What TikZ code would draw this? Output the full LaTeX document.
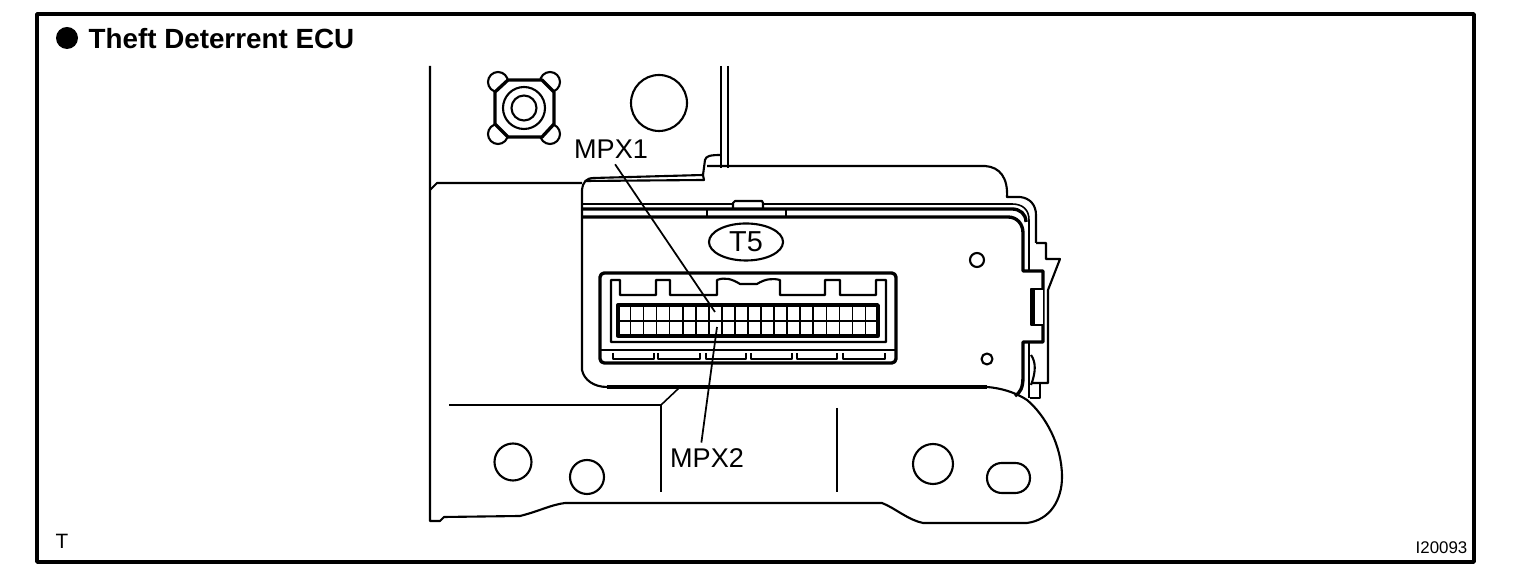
\documentclass[tikz,border=0pt]{standalone}
\usepackage{fontspec}
\usetikzlibrary{shapes.geometric}
\setmainfont{Liberation Sans}
\tikzset{
 thinline/.style={black, line width=.45pt},
 midline/.style={black, line width=.6pt},
 thickline/.style={black, line width=.95pt},
 leader/.style={black, line width=.5pt},
 callout/.style={inner sep=1.5pt, font=\fontsize{7.7}{9}\selectfont},
}
\begin{document}
\begin{tikzpicture}[x=.01cm, y=-.01cm, line join=round]
\useasboundingbox (0,0) rectangle (1536,574);
\fill[white] (0,0) rectangle (1536,574);
\draw[black, line width=1pt] (37,14) rectangle (1474,562);
\fill[black] (67,38) circle (11);
\node[anchor=west, inner sep=0pt, font=\bfseries\fontsize{7.9}{9}\selectfont] (title) at (88,38.5) {Theft Deterrent ECU};
\node[inner sep=0pt, font=\fontsize{5.9}{7}\selectfont] (series) at (62,541) {T};
\node[anchor=east, inner sep=0pt, font=\fontsize{4.8}{6}\selectfont] (partno) at (1468,548) {I20093};
% bracket plate
\draw[midline] (430,66) -- (430,521) -- (440,521) -- (444,517) -- (520,516) .. controls (540,511) and (550,505) .. (565,503) -- (882,503) .. controls (895,508) and (908,520) .. (923,523) -- (1027,523) .. controls (1050,520) and (1062,500) .. (1062,477) .. controls (1062,445) and (1045,415) .. (1027,400) .. controls (1015,392) and (1000,388) .. (987,387);
\draw[midline] (430,190) -- (437,183) -- (582,183);
\draw[midline] (721,66) -- (721,168);
\draw[midline] (728,66) -- (728,168);
\draw[midline] (703,175) -- (705,160) .. controls (706,156) and (710,155) .. (721,155);
\draw[thinline] (449,405) -- (661,405) -- (679,388);
\draw[thinline] (661,405) -- (661,492);
\draw[thinline] (837,408) -- (837,492);
% holes
\foreach \hx/\hy/\hr in {659/103/28, 513/462/18.5, 587/477/17, 933/464/20, 977/260/7, 987/359/5.5} {
 \draw[midline] (\hx,\hy) circle (\hr);
}
\draw[midline, rounded corners=4.2pt] (987,463) rectangle (1030,493);
% stud
\foreach \cx/\cy in {498/82, 550/82, 498/134, 550/134} {
 \draw[midline] (\cx,\cy) circle (10);
}
\draw[thickline, fill=white] (508,80) -- (542,80) -- (554,92) -- (554,124) -- (542,137) -- (508,137) -- (495,124) -- (495,92) -- cycle;
\draw[midline] (524,108) circle (21);
\draw[midline] (524,108) circle (12.5);
% ECU case
\draw[midline] (582,190) .. controls (583,182) and (586,178) .. (594,178) -- (703,175) -- (704,180) -- (586,181);
\draw[midline] (707,166) -- (985,166) .. controls (1000,167) and (1008,178) .. (1007,197) -- (1020,197) .. controls (1030,198) and (1036,205) .. (1036,215) -- (1036,243);
\draw[thinline] (583,204) -- (733,204);
\draw[thinline] (763,204) -- (1012,204) .. controls (1023,204) and (1029,210) .. (1029,220) -- (1029,271);
\draw[thickline] (583,209) -- (1012,209) .. controls (1020,209) and (1026,214) .. (1026,222);
\draw[thickline] (583,217) -- (1008,217) .. controls (1017,217) and (1023,224) .. (1023,233) -- (1023,271) -- (1043,271) -- (1043,342) -- (1023,342) -- (1023,377) .. controls (1023,388) and (1020,393) .. (1015,396);
\draw[midline] (582,190) -- (582,370) .. controls (584,380) and (594,387) .. (607,387);
\draw[thickline] (607,387) -- (987,387);
\draw[midline] (733,208) -- (733,203) -- (735,201) -- (762,201) -- (763,203) -- (763,208);
\draw[midline] (707,210) -- (707,217);
\draw[midline] (786,210) -- (786,217);
% latch on the right
\draw[midline] (1036,243) -- (1046,243) -- (1046,259) -- (1060,259) -- (1048,290) -- (1048,383) -- (1031,383);
\draw[midline] (1029,342) -- (1029,398);
\draw[midline] (1032,383) -- (1040,383) -- (1040,398) -- (1030,398);
\draw[midline] (1031,355) .. controls (1036,362) and (1036,372) .. (1031,385);
\draw[midline, fill=white] (1043,289) -- (1031,289) -- (1031,325) -- (1043,325);
\draw[thickline] (1033,289) -- (1033,325);
% connector
\draw[thickline, rounded corners=1.2pt] (600,273) rectangle (896,363);
\draw[midline] (600,350) -- (896,350);
\draw[midline] (611,280) -- (620,280) -- (620,295) -- (656,295) -- (656,280) -- (670,280) -- (670,295) -- (717,295) -- (717,280) .. controls (725,277) and (732,279) .. (740,284) -- (757,284) .. controls (765,279) and (772,278) .. (780,280) -- (780,295) -- (825,295) -- (825,280) -- (840,280) -- (840,295) -- (876,295) -- (876,280) -- (886,280) -- (886,342) -- (611,342) -- cycle;
\foreach \fa/\fb in {613/654, 658/700, 706/746, 751/792, 797/837, 843/885} {
 \draw[midline] (\fa,353) -- (\fa,359) -- (\fb,359) -- (\fb,353);
}
\foreach \col in {1,...,19} {
 \draw[thinline] ({617.5+\col*13.05},305) -- ({617.5+\col*13.05},336);
}
\draw[thinline] (618,321) -- (878,321);
\draw[thickline] (618,305) rectangle (878,336);
% labels and leaders
\node[draw, ellipse, inner sep=0pt, midline, minimum width=.74cm, minimum height=.37cm, font=\fontsize{8.2}{9}\selectfont] (plug) at (746,242) {T5};
\node[callout] (mpxa) at (611,149) {MPX1};
\node[callout] (mpxb) at (707,458) {MPX2};
\coordinate (pina) at (715,312);
\coordinate (pinb) at (717,327);
\draw[leader] (mpxa.-75) -- (pina);
\draw[leader] (mpxb.110) -- (pinb);
\end{tikzpicture}
\end{document}
